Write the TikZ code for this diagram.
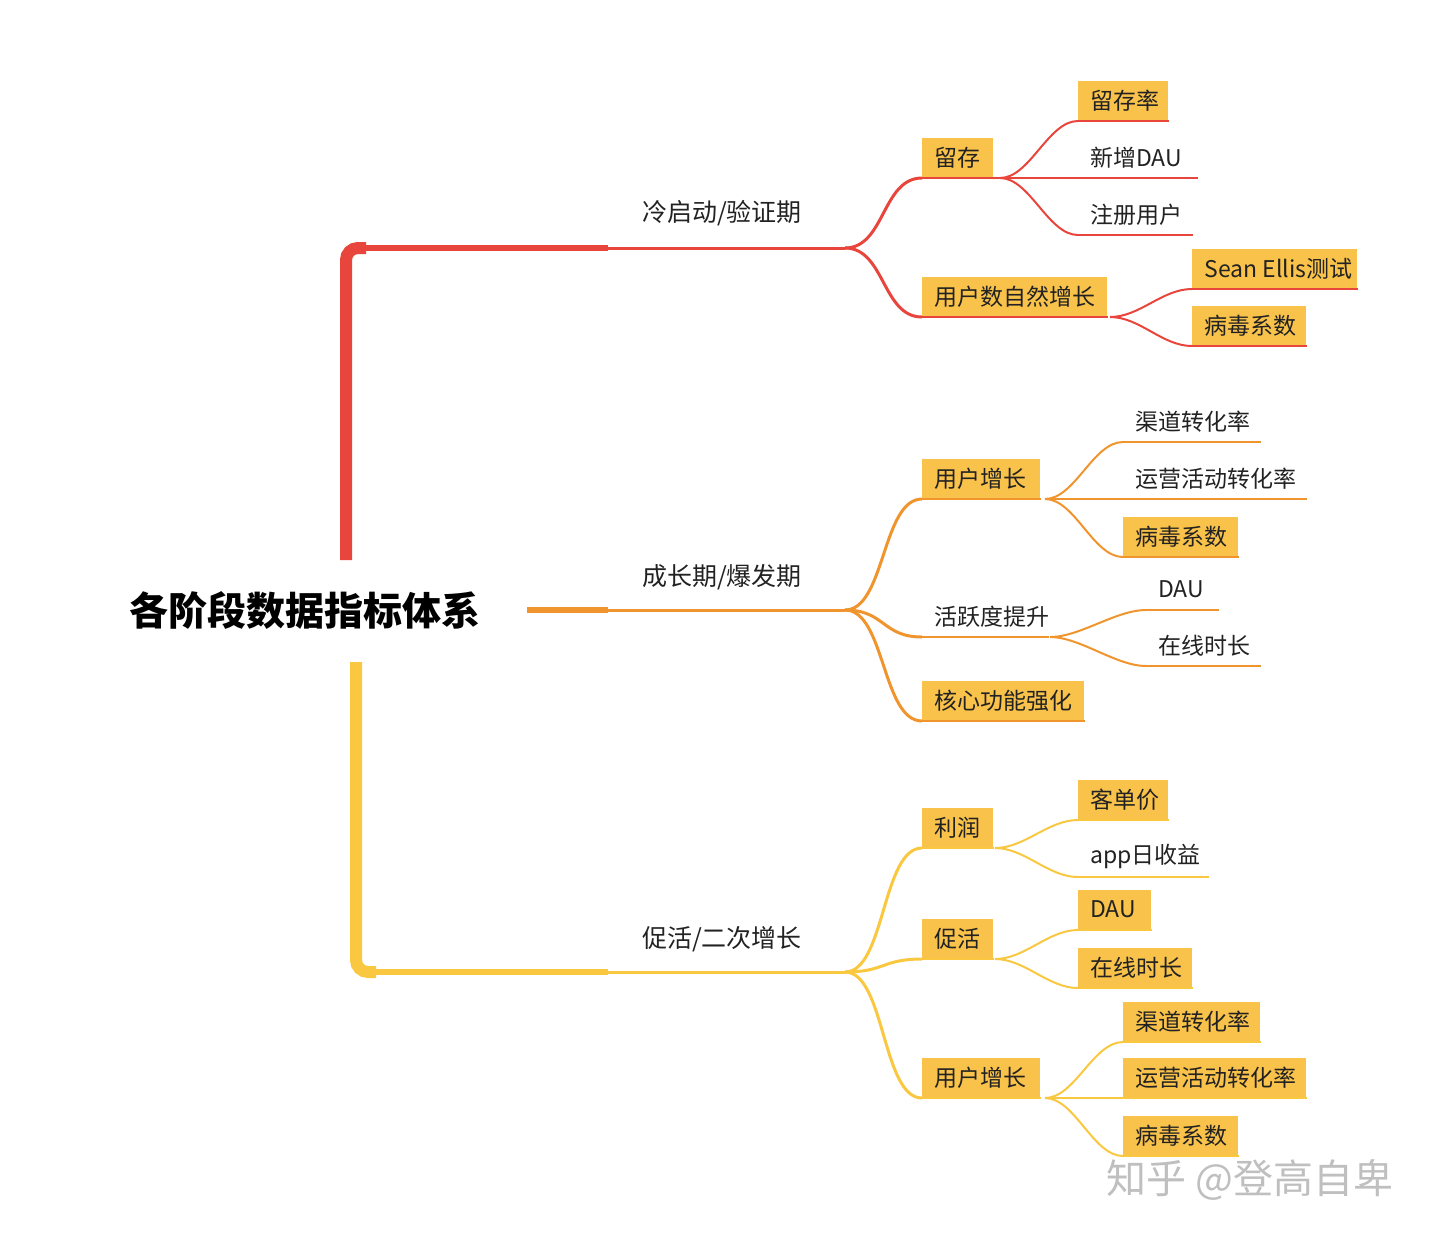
\documentclass[tikz,border=0pt]{standalone}
\usepackage{fontspec}
\setmainfont{Noto Sans CJK SC}
\definecolor{cr}{HTML}{E8453C}
\definecolor{co}{HTML}{F0952E}
\definecolor{cy}{HTML}{F9C840}
\definecolor{bx}{HTML}{F9C24A}
\definecolor{tx}{HTML}{222222}
\tikzset{
 boxy/.style={fill=bx},
 plain/.style={},
 conn/.style={line width=1pt},
 brl/.style={font=\fontsize{12.5}{13}\selectfont,text=tx},
}
% name, style, x, ybottom, width(pt), text, color
\newcommand\leaf[7]{%
 \node[#2,minimum width=#5,minimum height=20pt,inner sep=0pt,anchor=south west,text=tx,font=\fontsize{11.5}{12}\selectfont] (#1) at (#3,#4) {\hbox to #5{\hspace{6pt}#6\hfil}};
 \draw[#7,line width=1pt] (#1.south west) -- (#1.south east);}
\newcommand\conn[3]{\draw[#3,conn] (#1) .. controls +(30,0) and +(-30,0) .. (#2.south west);}
\begin{document}
\begin{tikzpicture}[x=0.5pt,y=-0.5pt]
\useasboundingbox (0,0) rectangle (1440,1238);
\node[font=\fontsize{19.5}{20}\selectfont\bfseries] (root) at (305,610) {各阶段数据指标体系};
% branch labels
\node[brl] (b1) at (722,213) {冷启动/验证期};
\node[brl] (b2) at (722,577) {成长期/爆发期};
\node[brl] (b3) at (722,939) {促活/二次增长};
\coordinate (j1) at (845,248);
\coordinate (j2) at (845,610);
\coordinate (j3) at (845,972);
% trunks
\draw[cr,line width=3pt] (360,248) -- (608,248);
\draw[cr,line width=6pt,rounded corners=6pt] (346,560) -- (346,248) -- (366,248);
\draw[cr,line width=1.5pt] (608,248) -- (j1);
\draw[co,line width=3pt] (527,610) -- (608,610);
\draw[co,line width=1.5pt] (608,610) -- (j2);
\draw[cy,line width=3pt] (370,972) -- (608,972);
\draw[cy,line width=6pt,rounded corners=6pt] (356,662) -- (356,972) -- (376,972);
\draw[cy,line width=1.5pt] (608,972) -- (j3);
% red level 2
\leaf{a1}{boxy}{922}{178}{35.5pt}{留存}{cr}
\leaf{a2}{boxy}{922}{317}{92.5pt}{用户数自然增长}{cr}
\draw[cr,line width=1.5pt] (j1) .. controls +(40,0) and +(-40,0) .. (a1.south west);
\draw[cr,line width=1.5pt] (j1) .. controls +(40,0) and +(-40,0) .. (a2.south west);
\coordinate (ja1) at (1000,178);
\coordinate (ja2) at (1110,317);
\leaf{a11}{boxy}{1078}{121}{45pt}{留存率}{cr}
\leaf{a12}{plain}{1078}{178}{59.5pt}{新增DAU}{cr}
\leaf{a13}{plain}{1078}{235}{57pt}{注册用户}{cr}
\conn{ja1}{a11}{cr}\conn{ja1}{a12}{cr}\conn{ja1}{a13}{cr}
\draw[cr,conn] (a1.south east) -- (ja1);
\leaf{a21}{boxy}{1192}{289}{82.5pt}{Sean Ellis测试}{cr}
\leaf{a22}{boxy}{1192}{346}{57pt}{病毒系数}{cr}
\conn{ja2}{a21}{cr}\conn{ja2}{a22}{cr}
% orange
\leaf{o1}{boxy}{922}{499}{59pt}{用户增长}{co}
\leaf{o2}{plain}{922}{637}{63pt}{活跃度提升}{co}
\leaf{o3}{boxy}{922}{721}{81pt}{核心功能强化}{co}
\draw[co,line width=1.5pt] (j2) .. controls +(40,0) and +(-40,0) .. (o1.south west);
\draw[co,line width=1.5pt] (j2) .. controls +(40,0) and +(-40,0) .. (o2.south west);
\draw[co,line width=1.5pt] (j2) .. controls +(40,0) and +(-40,0) .. (o3.south west);
\coordinate (jo1) at (1045,499);
\coordinate (jo2) at (1050,637);
\leaf{o11}{plain}{1123}{442}{68.5pt}{渠道转化率}{co}
\leaf{o12}{plain}{1123}{499}{91.5pt}{运营活动转化率}{co}
\leaf{o13}{boxy}{1123}{557}{57.5pt}{病毒系数}{co}
\conn{jo1}{o11}{co}\conn{jo1}{o12}{co}\conn{jo1}{o13}{co}
\leaf{o21}{plain}{1146}{610}{36pt}{DAU}{co}
\leaf{o22}{plain}{1146}{666}{57pt}{在线时长}{co}
\conn{jo2}{o21}{co}\conn{jo2}{o22}{co}
% yellow
\leaf{y1}{boxy}{922}{848}{35.5pt}{利润}{cy}
\leaf{y2}{boxy}{922}{959}{35.5pt}{促活}{cy}
\leaf{y3}{boxy}{922}{1098}{59pt}{用户增长}{cy}
\draw[cy,line width=1.5pt] (j3) .. controls +(40,0) and +(-40,0) .. (y1.south west);
\draw[cy,line width=1.5pt] (j3) .. controls +(40,0) and +(-40,0) .. (y2.south west);
\draw[cy,line width=1.5pt] (j3) .. controls +(40,0) and +(-40,0) .. (y3.south west);
\coordinate (jy1) at (995,848);
\coordinate (jy2) at (995,959);
\coordinate (jy3) at (1045,1098);
\leaf{y11}{boxy}{1078}{820}{45pt}{客单价}{cy}
\leaf{y12}{plain}{1078}{877}{65pt}{app日收益}{cy}
\conn{jy1}{y11}{cy}\conn{jy1}{y12}{cy}
\leaf{y21}{boxy}{1078}{930}{36.5pt}{DAU}{cy}
\leaf{y22}{boxy}{1078}{988}{57pt}{在线时长}{cy}
\conn{jy2}{y21}{cy}\conn{jy2}{y22}{cy}
\leaf{y31}{boxy}{1123}{1042}{68.5pt}{渠道转化率}{cy}
\leaf{y32}{boxy}{1123}{1098}{91.5pt}{运营活动转化率}{cy}
\leaf{y33}{boxy}{1123}{1156}{57.5pt}{病毒系数}{cy}
\conn{jy3}{y31}{cy}\conn{jy3}{y32}{cy}\conn{jy3}{y33}{cy}
\node[text=black!25,font=\fontsize{20}{22}\selectfont] (wm) at (1250,1180) {知乎 @登高自卑};
\end{tikzpicture}
\end{document}
